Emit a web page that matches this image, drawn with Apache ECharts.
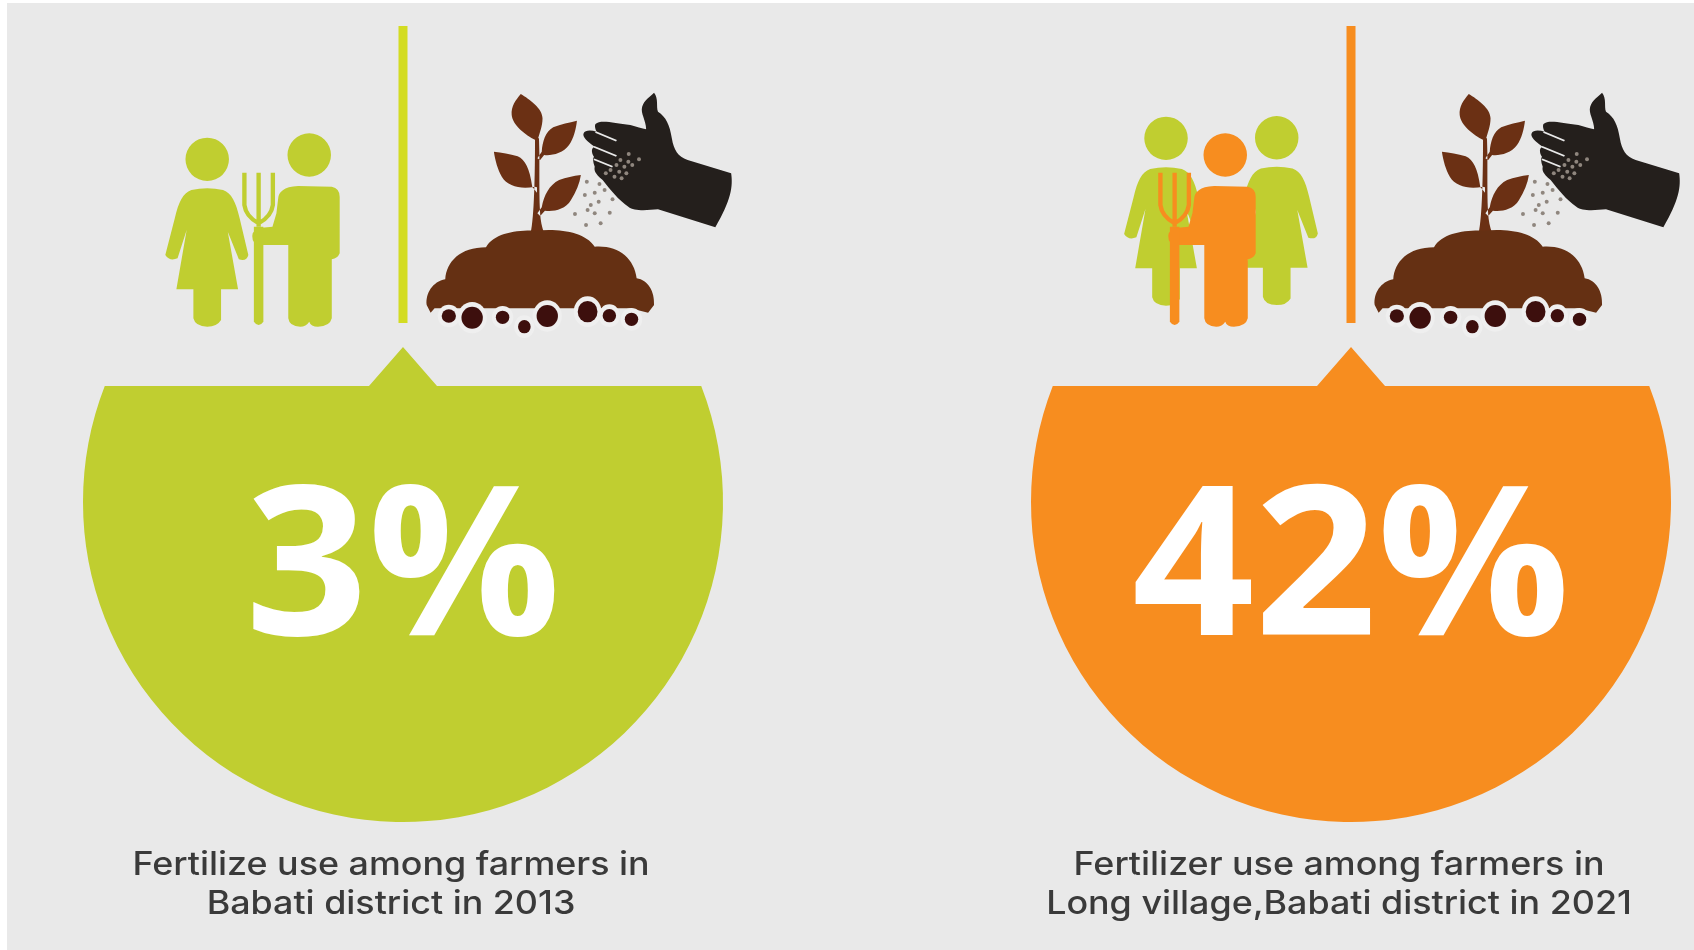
<!DOCTYPE html>
<html><head><meta charset="utf-8">
<style>html,body{margin:0;padding:0;background:#fff}#c{width:1694px;height:950px}</style>
<script src="https://cdn.jsdelivr.net/npm/echarts@6/dist/echarts.min.js"></script>
</head><body><div id="c"></div>
<script>
// ---- chart data ----
const years = ['2013', '2021'];
const percentages = [3, 42];
const captionLine1 = ['Fertilize use among farmers in', 'Fertilizer use among farmers in'];
const captionLine2 = ['Babati district in 2013', 'Long village,Babati district in 2021'];
const panelColors = ['#c0ce30', '#f78d1f'];
const dividerColors = ['#d3dc22', '#f78d1f'];

// ---- illustration outlines (drawn in a local icon space) ----
const HEAD = (cx, cy) => `M${cx - 55} ${cy}A55 65 0 1 1 ${cx + 55} ${cy}A55 65 0 1 1 ${cx - 55} ${cy}Z`;
const WOMAN = HEAD(170, 448) + 'M130 540Q170 530 210 540C232 550 242 575 252 625L274 735Q270 755 250 748L222 665L248 838L205 838L205 930Q195 950 170 950Q140 950 135 925L135 838L92 838L118 660L95 745Q75 755 64 735L88 625C98 575 108 550 130 540Z';
const MAN = HEAD(428, 435) + 'M362 540Q372 530 400 528L485 530Q505 535 505 560L505 730Q500 745 485 748L485 925Q480 950 450 950Q432 950 428 935Q420 950 405 950Q378 950 375 925L375 705L295 705Q280 690 285 670L295 655L335 650L345 610L350 560Q352 548 362 540Z';
const FORK_TINES = 'M264 488L264 585Q268 620 300 640Q332 620 336 585L336 488M300 488L300 650';
const FORK_POLE = 'M288 650L312 650L312 935Q300 955 288 935Z';
const LEAVES = 'M963 252C985 268 1018 295 1018 325C1018 350 1010 370 1006 390L1000 390C975 375 942 345 940 315C938 290 950 270 963 252Z' +
  'M1105 332C1085 338 1065 342 1045 352C1025 365 1018 395 1016 425L1005 445L1012 450L1022 435C1040 438 1070 430 1085 405C1097 385 1103 355 1105 332Z' +
  'M895 425C915 428 935 432 955 439C975 450 985 475 992 530L1004 548L1004 532L998 530C965 538 930 530 915 500C905 480 898 450 895 425Z' +
  'M1115 495C1095 498 1078 503 1060 510C1035 525 1022 555 1016 592L1005 610L1012 618L1024 602C1045 605 1075 600 1090 570C1103 545 1112 520 1115 495Z' +
  'M988 670C997 620 999 500 999 385L1009 385L1010 430L1010 445C1010 500 1010 560 1011 590L1012 612C1013 630 1016 650 1022 670Z';
const SOIL = 'M725 885C722 850 740 815 772 808C775 755 810 712 875 712C895 670 950 660 1000 662C1060 655 1125 665 1150 710C1210 705 1250 745 1256 805C1285 810 1302 845 1300 885L1285 908L1240 895L745 895L735 908Z';
const SOIL_DOTS = [[781, 918, 18, 20], [840, 923, 27, 33], [917, 922, 17, 20], [972, 950, 16, 20], [1030, 918, 27, 33], [1132, 905, 25, 32], [1187, 917, 17, 20], [1243, 928, 17, 20]];
const HAND = 'M1300 248C1312 265 1305 290 1310 305C1330 320 1340 345 1345 385C1350 420 1360 440 1385 450L1495 490C1500 530 1495 570 1455 652L1310 598C1285 600 1250 605 1235 590C1210 570 1190 540 1170 510C1150 490 1148 480 1150 470C1145 455 1145 445 1148 440C1140 425 1142 412 1150 410C1130 395 1118 380 1122 370C1125 360 1140 360 1155 365C1150 355 1150 345 1152 342C1165 328 1200 340 1240 345C1255 350 1270 355 1280 358C1280 330 1265 310 1270 290C1275 270 1290 260 1300 248Z';
const HAND_SLITS = 'M1152 366L1205 392M1148 410L1205 438M1148 448L1195 470';
const GRAINS = [[1236, 432], [1215, 450], [1235, 455], [1262, 448], [1205, 465], [1225, 470], [1245, 465], [1190, 480], [1212, 485], [1230, 490], [1200, 500], [1218, 505], [1178, 490],
  [1130, 515], [1162, 522], [1125, 555], [1150, 548], [1175, 540], [1140, 585], [1160, 575], [1195, 568], [1100, 612], [1132, 600], [1188, 608], [1128, 645], [1165, 640], [1150, 610]];
const ell = (x, y, rx, ry) => `M${x - rx} ${y}A${rx} ${ry} 0 1 1 ${x + rx} ${y}A${rx} ${ry} 0 1 1 ${x - rx} ${y}Z`;

const OLIVE = panelColors[0], BG = '#e9e9e9';
const fill = (pathData, color, x, y) => ({ type: 'path', x: x || 0, y: y || 0, shape: { pathData }, style: { fill: color } });

function people(i, color) {
  const tines = (dx) => ({ type: 'path', x: dx, shape: { pathData: FORK_TINES }, style: { fill: 'none', stroke: color, lineWidth: 11 } });
  if (i === 0) {
    return [fill(WOMAN, OLIVE), tines(0), fill(FORK_POLE, color), fill(MAN, color)];
  }
  const k = 2.529;
  return [
    fill(WOMAN, OLIVE, 10.8 * k, -21 * 3),
    fill(WOMAN, OLIVE, 121.5 * k, -21.6 * 3),
    fill(MAN, color, -32 * k, 0),
    tines(-32 * k),
    fill(FORK_POLE, color, -32 * k, 0)
  ];
}

function renderPanel(params, api) {
  const i = api.value(0), pct = api.value(1);
  const cx = api.coord([i, 0])[0];
  const color = panelColors[i];
  const R = 320, cy = 502, flat = 386;
  const half = Math.sqrt(R * R - (cy - flat) * (cy - flat));
  const disc = `M${-half} ${flat}L-34 ${flat}L0 347L34 ${flat}L${half} ${flat}A${R} ${R} 0 1 1 ${-half} ${flat}Z`;
  const iconChildren = [...people(i, color),
    fill(LEAVES, '#6b3014'), fill(SOIL, '#653013'), fill(HAND, '#241f1c'),
    { type: 'path', shape: { pathData: HAND_SLITS }, style: { fill: 'none', stroke: BG, lineWidth: 5 } }];
  SOIL_DOTS.forEach(d => iconChildren.push(fill(ell(d[0], d[1], d[2] + 10, d[3] + 14), '#efefef')));
  SOIL_DOTS.forEach(d => iconChildren.push(fill(ell(d[0], d[1], d[2], d[3]), '#3d0f0d')));
  GRAINS.forEach(g => iconChildren.push(fill(ell(g[0], g[1], 5, 6), '#8f867e')));
  const font = '500 32px Inter, "Open Sans", sans-serif';
  const caption = (t, y) => ({ type: 'text', x: -12, y, scaleX: 1.12, style: { text: t, fill: '#3a3a3a', font, textAlign: 'center', textVerticalAlign: 'middle' } });
  return {
    type: 'group', x: cx, y: 0, children: [
      { type: 'rect', shape: { x: -4.5, y: 26, width: 9, height: 297 }, style: { fill: dividerColors[i] } },
      { type: 'group', x: 140 - 403, y: 10, scaleX: 1 / 2.529, scaleY: 1 / 3, children: iconChildren },
      { type: 'path', shape: { pathData: disc }, style: { fill: color } },
      { type: 'text', x: 0, y: 576, scaleX: 1.03, style: { text: pct + '%', fill: '#ffffff', font: '700 208px "Open Sans", sans-serif', textAlign: 'center', textVerticalAlign: 'middle' } },
      caption(captionLine1[i], 865),
      caption(captionLine2[i], 904)
    ]
  };
}

const chart = echarts.init(document.getElementById('c'), null, { renderer: 'canvas' });
chart.setOption({
  animation: false,
  backgroundColor: '#ffffff',
  graphic: [{ type: 'rect', z: -10, shape: { x: 7, y: 3, width: 1687, height: 947 }, style: { fill: BG }, silent: true }],
  grid: { left: 0, right: 0, top: 0, bottom: 0, containLabel: false },
  xAxis: { type: 'value', min: -0.4251, max: 1.3618, show: false },
  yAxis: { type: 'value', min: 0, max: 100, show: false },
  series: [{
    type: 'custom', clip: false, silent: true, z: 5,
    encode: { x: 0, y: 1 },
    data: percentages.map((p, i) => [i, p]),
    renderItem: renderPanel
  }]
});
</script></body></html>
